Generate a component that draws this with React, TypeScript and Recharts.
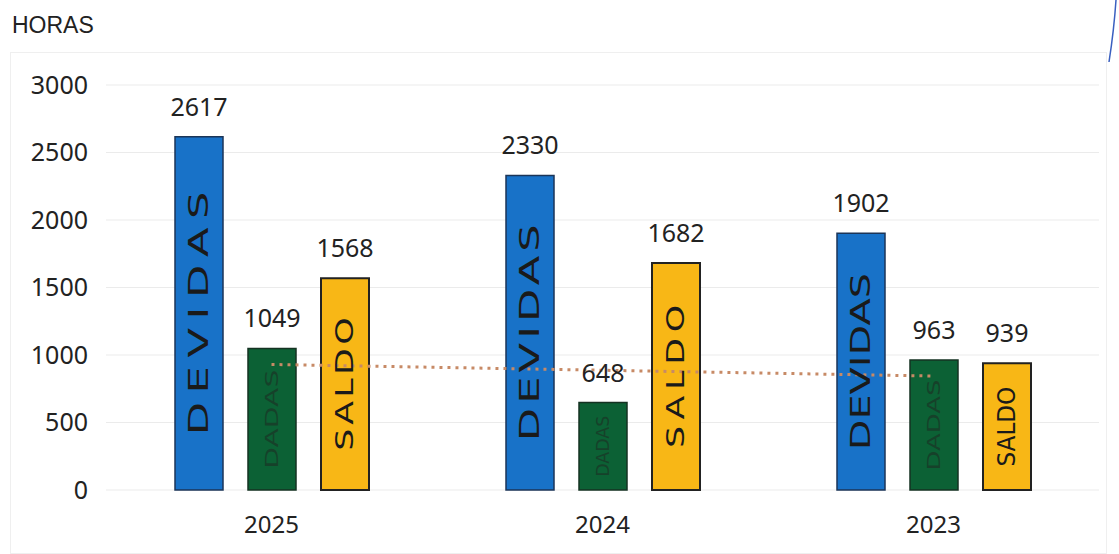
import React from 'react';
import { ComposedChart, Bar, Line, XAxis, YAxis, CartesianGrid, LabelList } from 'recharts';

// valores
const anos = ['2025', '2024', '2023'];
const devidas = [2617, 2330, 1902];
const dadas = [1049, 648, 963];
const saldo = [1568, 1682, 939];
const tendencia = [930, 887, 844]; // linha pontilhada (tendência das DADAS)
const yTicks = [0, 500, 1000, 1500, 2000, 2500, 3000];

const data = anos.map((ano, i) => ({
  ano,
  devidas: devidas[i],
  dadas: dadas[i],
  saldo: saldo[i],
  tendencia: tendencia[i],
}));

const FONT = "'Noto Sans', sans-serif";

const valueLabel = (props: any) => {
  const { x, y, width, value } = props;
  return (
    <text x={x + width / 2} y={y - 21} textAnchor="middle" fontSize={25} fill="#222" fontFamily={FONT}>
      {value}
    </text>
  );
};

// texto vertical dentro das barras
const innerLabel = (text: string, fontSize: number, emLen: number, ratio: number, sx: number, fill: string) => (props: any) => {
  const { x, y, width, height } = props;
  const cx = x + width / 2;
  const cy = y + height / 2;
  const len = (height * ratio) / sx;
  const adjust = len < fontSize * emLen ? 'spacingAndGlyphs' : 'spacing';
  return (
    <text
      x={0}
      y={0}
      transform={`translate(${cx} ${cy}) rotate(-90) scale(${sx} 1)`}
      textAnchor="middle"
      dominantBaseline="central"
      fontSize={fontSize}
      fill={fill}
      fontFamily="'DejaVu Sans', sans-serif"
      textLength={len}
      lengthAdjust={adjust}
    >
      {text}
    </text>
  );
};

export default function App() {
  return (
    <div style={{ position: 'absolute', left: 0, top: 0, width: 1119, height: 554, background: '#fff', overflow: 'hidden' }}>
      <div style={{ position: 'absolute', left: 12, top: 12, fontFamily: "'Liberation Sans', Arial, sans-serif", fontSize: 23, color: '#222' }}>
        HORAS
      </div>
      <div style={{ position: 'absolute', left: 10, top: 52, width: 1095, height: 500, border: '1px solid #efefef' }} />
      <svg style={{ position: 'absolute', left: 1100, top: 0 }} width={19} height={70}>
        <path d="M16 0 Q14 30 9 62" stroke="#3a5fc0" strokeWidth={1.5} fill="none" />
      </svg>
      <div style={{ position: 'absolute', left: 0, top: 0 }}>
        <ComposedChart width={1119} height={554} data={data} margin={{ top: 85, right: 20, bottom: 34, left: 0 }} barSize={48} barGap={25}>
          <CartesianGrid vertical={false} stroke="#ebebeb" />
          <XAxis
            dataKey="ano"
            axisLine={false}
            tickLine={false}
            tickSize={0}
            tickMargin={26}
            tick={{ fontSize: 24, fill: '#222', fontFamily: FONT }}
          />
          <YAxis
            width={106}
            domain={[0, 3000]}
            ticks={yTicks}
            axisLine={false}
            tickLine={false}
            tickSize={0}
            tickMargin={18}
            tick={{ fontSize: 25, fill: '#222', fontFamily: FONT }}
          />
          <Bar dataKey="devidas" fill="#1872c8" stroke="#1b3558" strokeWidth={1.5} isAnimationActive={false}>
            <LabelList dataKey="devidas" content={valueLabel} />
            <LabelList dataKey="devidas" content={innerLabel('DEVIDAS', 27, 4.45, 0.69, 1.6, '#1a1a1a')} />
          </Bar>
          <Bar dataKey="dadas" fill="#0c6135" stroke="#143222" strokeWidth={1.5} isAnimationActive={false}>
            <LabelList dataKey="dadas" content={valueLabel} />
            <LabelList dataKey="dadas" content={innerLabel('DADAS', 17, 99, 0.7, 1, '#16412a')} />
          </Bar>
          <Bar dataKey="saldo" fill="#f8b716" stroke="#222" strokeWidth={2} isAnimationActive={false}>
            <LabelList dataKey="saldo" content={valueLabel} />
            <LabelList dataKey="saldo" content={innerLabel('SALDO', 24, 3.43, 0.63, 1.45, '#1a1a1a')} />
          </Bar>
          <Line
            dataKey="tendencia"
            stroke="#c78a66"
            strokeWidth={3}
            strokeDasharray="3 5"
            dot={false}
            activeDot={false}
            isAnimationActive={false}
          />
        </ComposedChart>
      </div>
    </div>
  );
}
